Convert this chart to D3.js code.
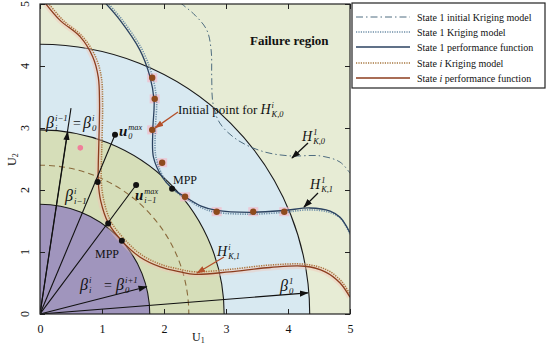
<!DOCTYPE html>
<html><head><meta charset="utf-8">
<script src="https://cdn.jsdelivr.net/npm/d3@7"></script>
<style>body{margin:0;background:#fff}text{font-family:"Liberation Serif","Times New Roman",serif;fill:#111}</style>
</head><body><svg id="c" width="550" height="345"></svg>
<script>
// ---------- data ----------
const xTicks = [0,1,2,3,4,5];
const yTicks = [0,1,2,3,4,5];
const circleRadii = [4.35, 2.97, 1.77];       // beta_0^1, beta_0^i, beta_i^i
const circleFills = ["#d8e9f1", "#d6deb9", "#a095bd"];
const dashedRadius = 2.4;
const initState1 = [[2.26,5.02],[2.50,4.82],[2.69,4.58],[2.76,4.26],[2.77,3.80],[2.79,3.40],[2.90,3.08],[3.18,2.81],[3.60,2.62],[4.03,2.55],[4.52,2.55],[4.84,2.45],[5.0,2.27]];
const perfState1 = [[1.05,5.02],[1.29,4.74],[1.61,4.26],[1.77,3.84],[1.84,3.45],[1.82,2.97],[1.83,2.53],[1.97,2.21],[2.13,2.03],[2.34,1.89],[2.60,1.74],[2.85,1.67],[3.39,1.64],[3.94,1.67],[4.35,1.71],[4.68,1.66],[4.84,1.56],[5.0,1.31]];
const krigState1 = [[1.09,5.02],[1.33,4.74],[1.65,4.26],[1.81,3.84],[1.88,3.45],[1.86,2.97],[1.87,2.53],[2.00,2.19],[2.16,2.00],[2.36,1.86],[2.61,1.71],[2.85,1.64],[3.39,1.61],[3.94,1.64],[4.35,1.68],[4.70,1.63],[4.87,1.52],[5.0,1.28]];
const perfStateI = [[0.08,5.02],[0.32,4.74],[0.65,4.47],[0.85,4.15],[0.94,3.82],[0.96,3.40],[0.95,2.80],[0.94,2.40],[0.94,2.13],[0.98,1.82],[1.10,1.47],[1.32,1.18],[1.61,0.92],[1.94,0.76],[2.26,0.68],[2.50,0.64],[3.06,0.68],[3.71,0.75],[4.27,0.77],[4.60,0.68],[4.84,0.50],[5.0,0.27]];
const krigStateI = [[0.13,5.02],[0.37,4.74],[0.70,4.46],[0.90,4.14],[0.99,3.82],[1.01,3.40],[1.00,2.80],[0.99,2.40],[0.99,2.13],[1.03,1.83],[1.14,1.50],[1.35,1.22],[1.63,0.96],[1.95,0.80],[2.26,0.72],[2.50,0.68],[3.06,0.72],[3.71,0.79],[4.29,0.80],[4.63,0.71],[4.87,0.52],[5.0,0.31]];
const samplePoints = [[1.81,3.81],[1.85,3.47],[1.81,2.97],[1.97,2.44],[2.34,1.89],[2.85,1.65],[3.44,1.65],[3.94,1.65]];
const strayPoint = [[0.65,2.68]];
const blackPoints = [[2.13,2.02],[0.93,2.13],[1.10,1.46],[1.32,1.18],[1.21,2.89],[1.55,2.08]];
const rayEnds = [[0.50,3.32],[1.21,2.89],[1.55,2.08]];
const arrowEnds = [[0.447,2.936],[1.72,0.44],[4.32,0.34]];
const legendLabels = ["State 1 initial Kriging model","State 1 Kriging model","State 1 performance function","State |i| Kriging model","State |i| performance function"];

// ---------- setup ----------
const svg = d3.select("#c");
const x = d3.scaleLinear([0,5],[40,350]);
const y = d3.scaleLinear([0,5],[314,4]);
const r = v => x(v) - x(0);
const defs = svg.append("defs");
defs.append("clipPath").attr("id","clip").append("rect").attr("x",40).attr("y",4).attr("width",310).attr("height",310);
function marker(id,color){
  defs.append("marker").attr("id",id).attr("viewBox","0 0 10 10").attr("refX",9).attr("refY",5)
    .attr("markerWidth",9).attr("markerHeight",9).attr("markerUnits","userSpaceOnUse").attr("orient","auto")
    .append("path").attr("d","M0,1.5L10,5L0,8.5Z").attr("fill",color);
}
marker("ab","#111"); marker("ar","#b4502a");

const plot = svg.append("g").attr("clip-path","url(#clip)");
plot.append("rect").attr("x",40).attr("y",4).attr("width",310).attr("height",310).attr("fill","#e7ecd5");
plot.selectAll("circle.reg").data(circleRadii).join("circle").attr("class","reg")
  .attr("cx",x(0)).attr("cy",y(0)).attr("r",d=>r(d)).attr("fill",(d,i)=>circleFills[i]).attr("stroke","#1a1a1a").attr("stroke-width",1.1);
plot.append("circle").attr("cx",x(0)).attr("cy",y(0)).attr("r",r(dashedRadius)).attr("fill","none")
  .attr("stroke","#8a6a3c").attr("stroke-width",1.1).attr("stroke-dasharray","6,4");

const line = d3.line().x(d=>x(d[0])).y(d=>y(d[1])).curve(d3.curveCatmullRom.alpha(0.5));
// halos
plot.append("path").attr("d",line(perfStateI)).attr("fill","none").attr("stroke","#f4c4b4").attr("stroke-width",6).attr("opacity",0.4);
plot.selectAll("rect.halo").data(samplePoints).join("rect").attr("class","halo")
  .attr("x",d=>x(d[0])-5).attr("y",d=>y(d[1])-4.5).attr("width",10).attr("height",9).attr("fill","#f3b9c9").attr("opacity",0.7);
plot.append("path").attr("d",line(initState1)).attr("fill","none").attr("stroke","#4f6d80").attr("stroke-width",1).attr("stroke-dasharray","7,3,1.5,3");
plot.append("path").attr("d",line(krigState1)).attr("fill","none").attr("stroke","#6f8fa8").attr("stroke-width",1.6).attr("stroke-dasharray","1.2,1.2");
plot.append("path").attr("d",line(perfState1)).attr("fill","none").attr("stroke","#2b4260").attr("stroke-width",1.3);
plot.append("path").attr("d",line(krigStateI)).attr("fill","none").attr("stroke","#a6763e").attr("stroke-width",1.5).attr("stroke-dasharray","1.2,1.2");
plot.append("path").attr("d",line(perfStateI)).attr("fill","none").attr("stroke","#8c3d1e").attr("stroke-width",1.3);

// rays
plot.selectAll("line.ray").data(rayEnds).join("line").attr("class","ray")
  .attr("x1",x(0)).attr("y1",y(0)).attr("x2",d=>x(d[0])).attr("y2",d=>y(d[1])).attr("stroke","#111").attr("stroke-width",1.1);
plot.selectAll("line.arr").data(arrowEnds).join("line").attr("class","arr")
  .attr("x1",x(0)).attr("y1",y(0)).attr("x2",d=>x(d[0])).attr("y2",d=>y(d[1])).attr("stroke","#111").attr("stroke-width",1.1).attr("marker-end","url(#ab)");

plot.selectAll("circle.s").data(samplePoints).join("circle").attr("class","s")
  .attr("cx",d=>x(d[0])).attr("cy",d=>y(d[1])).attr("r",3.2).attr("fill","#8e4a1c");
plot.selectAll("circle.st").data(strayPoint).join("circle").attr("class","st")
  .attr("cx",d=>x(d[0])).attr("cy",d=>y(d[1])).attr("r",2.8).attr("fill","#f07f9a");
plot.selectAll("circle.b").data(blackPoints).join("circle").attr("class","b")
  .attr("cx",d=>x(d[0])).attr("cy",d=>y(d[1])).attr("r",3).attr("fill","#111");

// annotation arrows
function arrow(x1,y1,x2,y2,color,id){
  svg.append("line").attr("x1",x1).attr("y1",y1).attr("x2",x2).attr("y2",y2).attr("stroke",color).attr("stroke-width",1.3).attr("marker-end",`url(#${id})`);
}
arrow(178,112,x(samplePoints[2][0])+3,y(samplePoints[2][1])-2,"#b4502a","ar");
arrow(224,257,197,273,"#b4502a","ar");
arrow(308,143,292,158,"#111","ab");
arrow(318,193,304,207,"#111","ab");

// ---------- text helpers ----------
function sym(x0,y0,main,sup,sub,o){
  o = Object.assign({size:14,italic:true,bold:false,ss:0.6},o||{});
  const t = svg.append("text").attr("x",x0).attr("y",y0).attr("font-size",o.size)
    .attr("font-style",o.italic?"italic":"normal").attr("font-weight",o.bold?"bold":"normal").text(main);
  const w = t.node().getComputedTextLength();
  let e = x0+w;
  const s = o.size*o.ss;
  if(sup!=null){ const a = svg.append("text").attr("x",x0+w+1).attr("y",y0-o.size*0.42).attr("font-size",s).attr("font-style","italic").text(sup); e=Math.max(e,x0+w+1+a.node().getComputedTextLength()); }
  if(sub!=null){ const b = svg.append("text").attr("x",x0+w+1).attr("y",y0+o.size*0.2).attr("font-size",s).attr("font-style","italic").text(sub); e=Math.max(e,x0+w+1+b.node().getComputedTextLength()); }
  return e;
}
function plain(x0,y0,s,o){
  o=Object.assign({size:13},o||{});
  return svg.append("text").attr("x",x0).attr("y",y0).attr("font-size",o.size).attr("font-weight",o.bold?"bold":"normal").text(s);
}

plain(250,45,"Failure region",{size:13,bold:true});
const ip = plain(178,114,"Initial point for",{size:13});
sym(178+ip.node().getComputedTextLength()+3,114,"H","i","K,0",{size:14});
sym(302,141,"H","1","K,0",{size:14});
sym(310,189,"H","1","K,1",{size:14});
sym(217,256,"H","i","K,1",{size:14});
plain(173,184,"MPP",{size:12});
plain(95,258,"MPP",{size:12});
// beta labels
sym(46,128,"β","i−1","i",{size:16,ss:0.55});
svg.append("text").attr("x",73).attr("y",128).attr("font-size",14).text("=");
sym(83,128,"β","i","0",{size:16,ss:0.55});
sym(65,201,"β","i","i−1",{size:16,ss:0.55});
sym(80,290,"β","i","i",{size:16,ss:0.55});
svg.append("text").attr("x",104).attr("y",290).attr("font-size",14).text("=");
sym(116,290,"β","i+1","0",{size:16,ss:0.55});
sym(280,291,"β","1","0",{size:16,ss:0.55});
sym(119,136,"u","max","0",{size:15,bold:true,ss:0.55});
sym(135,200,"u","max","i−1",{size:15,bold:true,ss:0.55});

// ---------- axes ----------
const ax = svg.append("g");
ax.append("g").attr("transform","translate(0,314)").call(d3.axisBottom(x).tickValues(xTicks).tickSize(-5).tickPadding(10).tickFormat(d3.format("d")))
  .call(g=>{g.select(".domain").remove(); g.selectAll("text").attr("font-size",12).attr("fill","#111").style("font-family","Liberation Serif");});
ax.append("g").attr("transform","translate(0,4)").call(d3.axisTop(x).tickValues(xTicks).tickSize(-5).tickFormat(""))
  .call(g=>g.select(".domain").remove());
ax.append("g").attr("transform","translate(40,0)").call(d3.axisLeft(y).tickValues(yTicks).tickSize(-5).tickFormat(""))
  .call(g=>g.select(".domain").remove());
ax.append("g").attr("transform","translate(350,0)").call(d3.axisRight(y).tickValues(yTicks).tickSize(-5).tickFormat(""))
  .call(g=>g.select(".domain").remove());
ax.selectAll(".tick line").attr("stroke","#222");
ax.selectAll("text.yl").data(yTicks).join("text").attr("class","yl")
  .attr("transform",d=>`translate(29,${y(d)}) rotate(-90)`).attr("text-anchor","middle").attr("font-size",12).text(d=>d);
svg.append("rect").attr("x",40).attr("y",4).attr("width",310).attr("height",310).attr("fill","none").attr("stroke","#222").attr("stroke-width",1.2);
// axis titles
const u1 = svg.append("text").attr("x",192).attr("y",341).attr("font-size",12);
u1.append("tspan").text("U"); u1.append("tspan").attr("font-size",8).attr("dy",2).text("1");
const u2 = svg.append("text").attr("transform","translate(16,166) rotate(-90)").attr("font-size",12);
u2.append("tspan").text("U"); u2.append("tspan").attr("font-size",8).attr("dy",2).text("2");

// ---------- legend ----------
const lg = svg.append("g");
lg.append("rect").attr("x",352).attr("y",3).attr("width",193).attr("height",85).attr("fill","#fff").attr("stroke","#222").attr("stroke-width",1.2);
const ly = [17,32,47,63,78];
const lstyle = [
  {c:"#4f6d80",w:1,da:"7,3,1.5,3"},
  {c:"#6f8fa8",w:1.4,da:"1.2,1.2"},
  {c:"#2b4260",w:1.3,da:null},
  {c:"#a6763e",w:1.4,da:"1.2,1.2"},
  {c:"#8c3d1e",w:1.3,da:null}];
legendLabels.forEach((s,i)=>{
  lg.append("line").attr("x1",356).attr("x2",410).attr("y1",ly[i]).attr("y2",ly[i]).attr("stroke",lstyle[i].c).attr("stroke-width",lstyle[i].w).attr("stroke-dasharray",lstyle[i].da);
  const t = lg.append("text").attr("x",417).attr("y",ly[i]+3.5).attr("font-size",10);
  s.split("|").forEach((p,j)=>t.append("tspan").attr("font-style",j===1?"italic":"normal").text(p));
});
</script></body></html>
